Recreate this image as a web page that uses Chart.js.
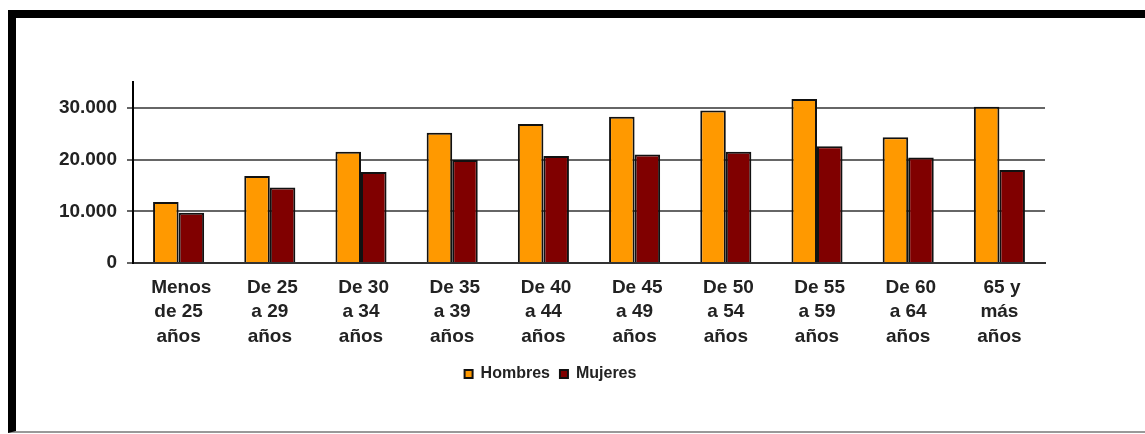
<!DOCTYPE html>
<html>
<head>
<meta charset="utf-8">
<script src="https://cdn.jsdelivr.net/npm/chart.js@4/dist/chart.umd.min.js"></script>
<style>
  html, body { margin:0; padding:0; background:#fff; }
  #wrap { position:relative; width:1145px; height:434px; overflow:hidden; }
  #frame { position:absolute; left:8px; top:10px; width:1160px; height:423px; box-sizing:border-box;
           border-top:8px solid #000; border-left:8px solid #000; border-bottom:2px solid #999; }
  #myChart { position:absolute; left:0; top:0; }
</style>
</head>
<body>
<div id="wrap">
  <div id="frame"></div>
  <canvas id="myChart" width="1145" height="434"></canvas>
</div>
<script>
// age groups (multi-line labels)
var age_groups = [
    [' Menos', 'de 25', 'años'],
    [' De 25', 'a 29', 'años'],
    [' De 30', 'a 34', 'años'],
    [' De 35', 'a 39', 'años'],
    [' De 40', 'a 44', 'años'],
    [' De 45', 'a 49', 'años'],
    [' De 50', 'a 54', 'años'],
    [' De 55', 'a 59', 'años'],
    [' De 60', 'a 64', 'años'],
    [' 65 y', 'más', 'años']
];
var hombres = [11800, 16800, 21500, 25200, 26900, 28300, 29500, 31700, 24300, 30200];
var mujeres = [9700, 14600, 17600, 19900, 20700, 21000, 21500, 22600, 20400, 18000];
var y_ticks = [0, 10000, 20000, 30000];

function fmt(v) { // 30000 -> 30.000
    return String(v).replace(/\B(?=(\d{3})+(?!\d))/g, '.');
}

// legend sits a bit right of the canvas centre in the original
const shiftLegend = {
    id: 'shiftLegend',
    afterLayout: function(chart) {
        chart.legend.left += 56;
    }
};

const ctx = document.getElementById('myChart').getContext('2d');

const myChart = new Chart(ctx, {
    type: 'bar',
    data: {
        labels: age_groups,
        datasets: [{
            label: 'Hombres',
            data: hombres,
            backgroundColor: '#FF9900',
            borderColor: '#111',
            borderWidth: 2
        }, {
            label: 'Mujeres',
            data: mujeres,
            backgroundColor: '#800000',
            borderColor: '#111',
            borderWidth: 2
        }]
    },
    options: {
        responsive: false,
        animation: false,
        devicePixelRatio: 1,
        layout: {
            padding: { top: 82, right: 100, left: 0, bottom: 42 }
        },
        datasets: {
            bar: { categoryPercentage: 0.56, barPercentage: 1 }
        },
        scales: {
            x: {
                grid: { display: false, drawTicks: false },
                border: { color: '#333', width: 2 },
                ticks: {
                    color: '#222',
                    padding: 12,
                    maxRotation: 0,
                    autoSkip: false,
                    font: { family: 'Liberation Sans, Arial, sans-serif', size: 19, weight: 'bold', lineHeight: 1.3 }
                },
                afterFit: function(scale) { scale.height = 93; }
            },
            y: {
                min: 0,
                max: 35000,
                border: { color: '#000', width: 2 },
                grid: {
                    color: '#666',
                    lineWidth: 2,
                    tickLength: 6,
                    drawTicks: true
                },
                ticks: {
                    stepSize: 10000,
                    color: '#222',
                    padding: 10,
                    font: { family: 'Liberation Sans, Arial, sans-serif', size: 19, weight: 'bold' },
                    callback: function(v) { return fmt(v); }
                },
                afterBuildTicks: function(scale) {
                    scale.ticks = y_ticks.map(function(v) { return { value: v }; });
                },
                afterFit: function(scale) { scale.width = 133; }
            }
        },
        plugins: {
            title: { display: false },
            tooltip: { enabled: false },
            legend: {
                position: 'bottom',
                labels: {
                    boxWidth: 8,
                    boxHeight: 8,
                    padding: 10,
                    color: '#222',
                    font: { family: 'Liberation Sans, Arial, sans-serif', size: 16, weight: 'bold' }
                }
            }
        }
    },
    plugins: [shiftLegend]
});
</script>
</body>
</html>
